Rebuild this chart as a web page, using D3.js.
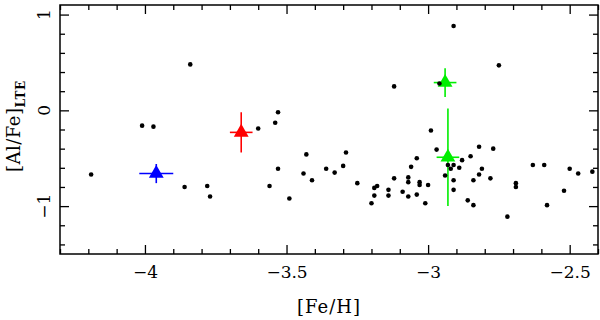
<html>
<head>
<meta charset="utf-8">
<style>
  body { margin: 0; padding: 0; background: #fff; }
  svg text { font-family: "DejaVu Serif", serif; fill: #000; }
</style>
</head>
<body>
<div id="chart"></div>
<script src="https://d3js.org/d3.v7.min.js"></script>
<script>
// field stars: [Fe/H] and [Al/Fe]_LTE
const feH = [-4.19, -4.01, -3.97, -3.84, -3.86, -3.78, -3.77, -3.60, -3.54, -3.53,
  -3.43, -3.53, -3.44, -3.41, -3.36, -3.33, -3.56, -3.49, -3.29, -3.30,
  -3.25, -3.12, -3.19, -3.18, -3.19, -3.20, -3.14, -3.14, -3.12, -2.97,
  -3.04, -3.06, -3.07, -3.07, -3.09, -3.07, -3.04, -3.03, -3.03, -3.00,
  -3.01, -2.91, -2.89, -2.88, -2.93, -2.92, -2.94, -2.91, -2.91, -2.82,
  -2.77, -2.85, -2.81, -2.82, -2.84, -2.78, -2.69, -2.69, -2.86, -2.84,
  -2.72, -2.63, -2.59, -2.50, -2.47, -2.42, -2.52, -2.58, -2.91, -2.75,
  -2.96, -2.99];
const alFe = [-0.67, -0.16, -0.17, 0.48, -0.80, -0.79, -0.90, -0.19, -0.13, -0.02,
  -0.46, -0.61, -0.66, -0.73, -0.61, -0.65, -0.79, -0.92, -0.44, -0.58,
  -0.76, -0.71, -0.81, -0.79, -0.89, -0.97, -0.83, -0.89, 0.25, -0.41,
  -0.50, -0.59, -0.70, -0.75, -0.85, -0.90, -0.88, -0.75, -0.78, -0.78,
  -0.97, -0.57, -0.60, -0.52, -0.57, -0.61, -0.68, -0.73, -0.83, -0.38,
  -0.40, -0.48, -0.61, -0.67, -0.73, -0.71, -0.76, -0.80, -0.94, -0.99,
  -1.11, -0.57, -0.57, -0.61, -0.66, -0.64, -0.84, -0.99, 0.88, 0.47,
  0.28, -0.21];

// highlighted stars with error bars
const starFeH  = [-3.96, -3.66, -2.94, -2.93];
const starAlFe = [-0.66, -0.23, 0.29, -0.49];
const starErrFe = [0.06, 0.04, 0.04, 0.04];
const starErrAl = [0.10, 0.21, 0.15, 0.51];

const xMajor = [-4, -3.5, -3, -2.5];
const yMajor = [-1, 0, 1];

const starColors = ["#0000ff", "#ff0000", "#00ee00", "#00ee00"];

const W = 600, H = 320;
const m = { left: 60, right: 598, top: 5, bottom: 254 };

const svg = d3.select("#chart").append("svg")
  .attr("width", W).attr("height", H);

const x = d3.scaleLinear().domain([-4.3, -2.4]).range([m.left, m.right]);
const y = d3.scaleLinear().domain([-1.5, 1.1]).range([m.bottom, m.top]);

const xMinor = d3.range(-4.3, -2.39, 0.1).map(v => +v.toFixed(1)).filter(v => !xMajor.includes(v));
const yMinor = d3.range(-1.4, 1.11, 0.2).map(v => +v.toFixed(1)).filter(v => !yMajor.includes(v));
const fmt = d3.format("");

function axisGroup(axis, tx, ty) {
  const g = svg.append("g").attr("transform", `translate(${tx},${ty})`).call(axis);
  g.select(".domain").remove();
  g.selectAll("line").attr("stroke", "#000").attr("stroke-width", 1.3);
  return g;
}

// bottom
const gb = axisGroup(d3.axisBottom(x).tickValues(xMajor).tickSize(-9).tickPadding(12).tickFormat(fmt), 0, m.bottom);
gb.selectAll("text").style("font-size", "17px").attr("fill", "#000");
axisGroup(d3.axisBottom(x).tickValues(xMinor).tickSize(-5).tickFormat(""), 0, m.bottom);
// top
axisGroup(d3.axisTop(x).tickValues(xMajor).tickSize(-9).tickFormat(""), 0, m.top);
axisGroup(d3.axisTop(x).tickValues(xMinor).tickSize(-5).tickFormat(""), 0, m.top);
// left
axisGroup(d3.axisLeft(y).tickValues(yMajor).tickSize(-9).tickFormat(""), m.left, 0);
axisGroup(d3.axisLeft(y).tickValues(yMinor).tickSize(-5).tickFormat(""), m.left, 0);
// right
axisGroup(d3.axisRight(y).tickValues(yMajor).tickSize(-9).tickFormat(""), m.right, 0);
axisGroup(d3.axisRight(y).tickValues(yMinor).tickSize(-5).tickFormat(""), m.right, 0);

// rotated y tick labels
svg.append("g").selectAll("text")
  .data(yMajor)
  .enter()
  .append("text")
  .attr("transform", d => `translate(50,${y(d)}) rotate(-90)`)
  .attr("text-anchor", "middle")
  .style("font-size", "17px")
  .text(d => fmt(d));

// frame
svg.append("rect")
  .attr("x", m.left).attr("y", m.top)
  .attr("width", m.right - m.left).attr("height", m.bottom - m.top)
  .attr("fill", "none").attr("stroke", "#000").attr("stroke-width", 1.5);

// error bars + triangles
const stars = starFeH.map((v, i) => ({ fe: v, al: starAlFe[i], ef: starErrFe[i], ea: starErrAl[i], c: starColors[i] }));
const sg = svg.append("g");
sg.selectAll(".ex").data(stars).enter().append("line")
  .attr("x1", d => x(d.fe - d.ef)).attr("x2", d => x(d.fe + d.ef))
  .attr("y1", d => y(d.al)).attr("y2", d => y(d.al))
  .attr("stroke", d => d.c).attr("stroke-width", 1.6);
sg.selectAll(".ey").data(stars).enter().append("line")
  .attr("x1", d => x(d.fe)).attr("x2", d => x(d.fe))
  .attr("y1", d => y(d.al - d.ea)).attr("y2", d => y(d.al + d.ea))
  .attr("stroke", d => d.c).attr("stroke-width", 1.6);
sg.selectAll("path").data(stars).enter().append("path")
  .attr("d", d3.symbol().type(d3.symbolTriangle).size(95))
  .attr("transform", d => `translate(${x(d.fe)},${y(d.al)})`)
  .attr("fill", d => d.c);

// field star dots
svg.append("g").selectAll("circle")
  .data(feH.map((v, i) => [v, alFe[i]]))
  .enter()
  .append("circle")
  .attr("cx", d => x(d[0]))
  .attr("cy", d => y(d[1]))
  .attr("r", 2.3)
  .attr("fill", "#000");

// axis titles
svg.append("text")
  .attr("x", (m.left + m.right) / 2).attr("y", 313)
  .attr("text-anchor", "middle")
  .style("font-size", "18px")
  .style("letter-spacing", "1px")
  .text("[Fe/H]");

const yt = svg.append("text")
  .attr("transform", "translate(20,172) rotate(-90)")
  .attr("text-anchor", "start")
  .style("font-size", "18px")
  .style("letter-spacing", "0.5px");
yt.append("tspan").text("[Al/Fe]");
yt.append("tspan").attr("dy", 5).style("font-size", "12px").style("font-weight", "bold").text("LTE");
</script>
</body>
</html>
